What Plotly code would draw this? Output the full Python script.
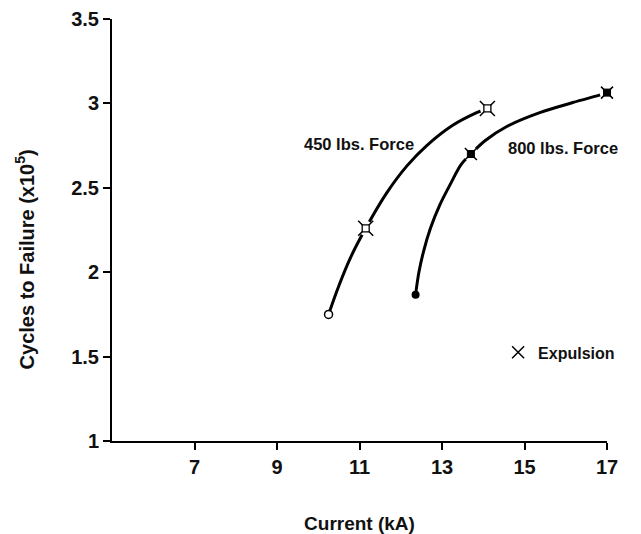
import plotly.graph_objects as go

# Measured points (Current kA, Cycles to failure x10^5)
current_450 = [10.25, 11.15, 14.10]
cycles_450 = [1.75, 2.26, 2.97]
current_800 = [12.36, 13.70, 17.00]
cycles_800 = [1.867, 2.70, 3.064]

# Hand-drawn curve path
curve_450_x = [10.25, 10.50, 10.78, 11.15, 11.66, 12.15, 12.63, 13.26, 13.84, 14.10]
curve_450_y = [1.75, 1.92, 2.085, 2.26, 2.47, 2.63, 2.75, 2.87, 2.945, 2.97]
curve_800_x = [12.36, 12.44, 12.56, 12.72, 12.95, 13.20, 13.47, 13.70, 14.05, 14.57, 15.37, 16.17, 16.90, 17.00]
curve_800_y = [1.867, 2.00, 2.13, 2.26, 2.40, 2.52, 2.64, 2.70, 2.78, 2.863, 2.945, 3.005, 3.055, 3.064]

x_ticks = [7, 9, 11, 13, 15, 17]
y_ticks = [1, 1.5, 2, 2.5, 3, 3.5]

FONT = "Liberation Sans, Arial, sans-serif"

fig = go.Figure()

for cx, cy in [(curve_450_x, curve_450_y), (curve_800_x, curve_800_y)]:
    fig.add_trace(go.Scatter(x=cx, y=cy, mode="lines",
                             line=dict(color="black", width=3, shape="spline", smoothing=1.0),
                             showlegend=False, hoverinfo="skip", cliponaxis=False))

# white halos to create the gaps around expulsion markers
for xs, ys in [(current_450[1:], cycles_450[1:]), (current_800[1:], cycles_800[1:])]:
    fig.add_trace(go.Scatter(x=xs, y=ys, mode="markers",
                             marker=dict(symbol="circle", size=15, color="white", line=dict(width=0)),
                             showlegend=False, hoverinfo="skip", cliponaxis=False))

# expulsion X spikes
fig.add_trace(go.Scatter(x=current_450[1:], y=cycles_450[1:], mode="markers",
                         marker=dict(symbol="x-thin", size=15, line=dict(color="black", width=1.5)),
                         showlegend=False, cliponaxis=False))
fig.add_trace(go.Scatter(x=current_800[1:], y=cycles_800[1:], mode="markers", name="Expulsion",
                         marker=dict(symbol="x-thin", size=12, line=dict(color="black", width=1.5)),
                         showlegend=True, cliponaxis=False))

# centres
fig.add_trace(go.Scatter(x=current_450[1:], y=cycles_450[1:], mode="markers",
                         marker=dict(symbol="square", size=7, color="white", line=dict(color="black", width=1.3)),
                         showlegend=False, cliponaxis=False))
fig.add_trace(go.Scatter(x=current_800[1:], y=cycles_800[1:], mode="markers",
                         marker=dict(symbol="square", size=7, color="black", line=dict(color="black", width=1)),
                         showlegend=False, cliponaxis=False))

# start points
fig.add_trace(go.Scatter(x=current_450[:1], y=cycles_450[:1], mode="markers",
                         marker=dict(symbol="circle", size=8, color="white", line=dict(color="black", width=1.5)),
                         showlegend=False, cliponaxis=False))
fig.add_trace(go.Scatter(x=current_800[:1], y=cycles_800[:1], mode="markers",
                         marker=dict(symbol="circle", size=8, color="black"),
                         showlegend=False, cliponaxis=False))

fig.add_annotation(x=10.98, y=2.757, text="<b>450 lbs. Force</b>", showarrow=False,
                   font=dict(family=FONT, size=16.5, color="#111"))
fig.add_annotation(x=15.93, y=2.733, text="<b>800 lbs. Force</b>", showarrow=False,
                   font=dict(family=FONT, size=16.5, color="#111"))

# y-axis title (sits a little below the axis centre in the reference)
fig.add_annotation(xref="paper", yref="paper", x=-0.176, y=0.43, textangle=-90,
                   text="<b>Cycles to Failure (x10<sup>5</sup>)</b>", showarrow=False,
                   xanchor="center", yanchor="middle",
                   font=dict(family=FONT, size=20, color="#111"))

fig.update_layout(
    width=641, height=534,
    margin=dict(l=104, r=42, t=11, b=101, autoexpand=False),
    paper_bgcolor="white", plot_bgcolor="white",
    font=dict(family=FONT, color="#111"),
    legend=dict(x=0.78, y=0.21, xanchor="left", yanchor="middle",
                bgcolor="rgba(0,0,0,0)", font=dict(family=FONT, size=16, weight="bold"),
                itemwidth=30),
    xaxis=dict(range=[5, 17], tickvals=x_ticks, ticktext=[str(v) for v in x_ticks],
               showline=True, linecolor="black", linewidth=2, showgrid=False, zeroline=False,
               ticks="outside", ticklen=7, tickwidth=2, tickcolor="black", automargin=False,
               tickfont=dict(family=FONT, size=20, weight="bold"),
               title=dict(text="<b>Current (kA)</b>", font=dict(family=FONT, size=19), standoff=40)),
    yaxis=dict(range=[1, 3.5], tickvals=y_ticks, ticktext=[("%g" % v) for v in y_ticks],
               showline=True, linecolor="black", linewidth=2, showgrid=False, zeroline=False,
               ticks="outside", ticklen=7, tickwidth=2, tickcolor="black", automargin=False,
               ticklabeloverflow="allow",
               tickfont=dict(family=FONT, size=20, weight="bold")),
)

fig.write_html("out.html")
